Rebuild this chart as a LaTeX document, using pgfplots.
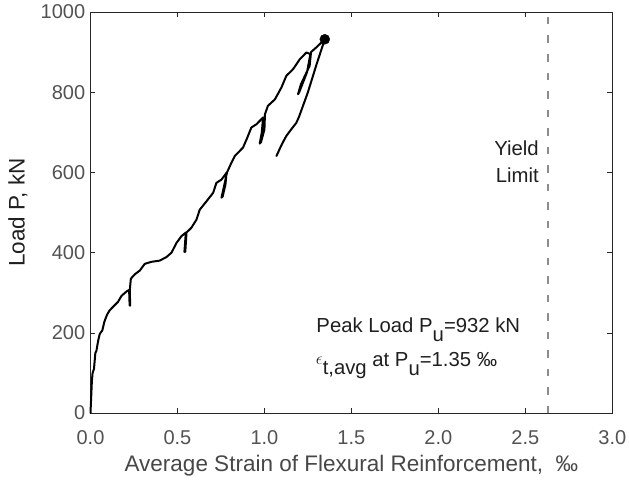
\documentclass[border=0pt]{standalone}
\usepackage{fontspec}
\setmainfont{Liberation Sans}
\usepackage{pgfplots}
\pgfplotsset{compat=1.18}
\begin{document}
\begin{tikzpicture}
\useasboundingbox (-90.5pt,-70pt) rectangle (538.5pt,413pt);
\begin{axis}[
  scale only axis, width=521.8pt, height=401pt,
  xmin=0, xmax=3, ymin=0, ymax=1000,
  xtick={0,0.5,1,1.5,2,2.5,3}, ytick={0,200,400,600,800,1000},
  tick align=inside, major tick length=5pt,
  axis line style={black!85, line width=0.6pt},
  tick style={black!85, line width=0.6pt},
  /pgf/number format/assume math mode=true,
  /pgf/number format/1000 sep={},
  ticklabel style={font=\fontsize{20}{22}\selectfont, text=black!68},
  xticklabel style={anchor=center, yshift=-24.7pt, /pgf/number format/.cd, fixed, fixed zerofill, precision=1},
  yticklabel style={xshift=-1.8pt},
  label style={font=\fontsize{22.5}{25}\selectfont},
  xlabel={Average Strain of Flexural Reinforcement,\ \ ‰},
  ylabel={Load P, kN},
  xlabel style={at={(axis description cs:0.5,-0.132)}, anchor=center, text=black!72},
  ylabel style={at={(axis description cs:-0.139,0.5)}, anchor=center, text=black!88},
  clip=false,
]
\addplot[color=black!45, line width=2pt, dash pattern=on 7.5pt off 11pt] coordinates {(2.63,0) (2.63,1000)};
\addplot[black, line width=2pt, line join=round, line cap=round] coordinates {
(0,0) (0.008,80) (0.012,100) (0.02,110) (0.028,150) (0.034,155) (0.044,180) (0.053,197)
(0.068,206) (0.08,228) (0.095,245) (0.11,256) (0.13,265) (0.158,277) (0.178,292) (0.207,303)
(0.222,307) (0.225,268) (0.228,268) (0.226,307) (0.232,335) (0.255,346) (0.283,355) (0.312,372)
(0.35,377) (0.398,380) (0.437,389) (0.466,400) (0.494,424) (0.523,441) (0.548,450) (0.540,402)
(0.545,402) (0.552,450) (0.58,462) (0.609,482) (0.628,507) (0.667,528) (0.705,549) (0.724,574)
(0.753,582) (0.782,599) (0.776,570) (0.760,540) (0.753,537) (0.765,560) (0.785,600) (0.81,624)
(0.83,641) (0.877,662) (0.897,682) (0.925,712) (0.954,720) (0.992,737) (0.985,700) (0.973,672)
(0.98,675) (1.0,707) (1.003,745) (1.02,766) (1.06,782) (1.098,812) (1.126,841) (1.164,857)
(1.203,882) (1.241,899) (1.264,895) (1.245,850) (1.20,800) (1.193,795) (1.21,820) (1.26,866)
(1.268,900) (1.299,912) (1.347,932)
(1.30,870) (1.25,800) (1.20,740) (1.184,724) (1.15,705) (1.126,691) (1.10,670) (1.069,641)
};
\addplot[only marks, mark=*, mark size=5pt, black] coordinates {(1.347,932)};
\node[anchor=base west, inner sep=0pt, text=black!88, font=\fontsize{20.3}{22}\selectfont] at (axis cs:1.298,200) {Peak Load P\raisebox{-0.42em}{u}=932 kN};
\node[anchor=base west, inner sep=0pt, text=black!88, font=\fontsize{20.3}{22}\selectfont] at (axis cs:1.295,116) {\raisebox{0.1em}{\fontsize{16}{16}\selectfont$\epsilon$}\raisebox{-0.38em}{t,avg} at P\raisebox{-0.42em}{u}=1.35 ‰};
\node[anchor=base east, inner sep=0pt, text=black!88, font=\fontsize{20.3}{22}\selectfont] at (axis cs:2.578,641) {Yield};
\node[anchor=base east, inner sep=0pt, text=black!88, font=\fontsize{20.3}{22}\selectfont] at (axis cs:2.578,574) {Limit};
\end{axis}
\end{tikzpicture}
\end{document}
